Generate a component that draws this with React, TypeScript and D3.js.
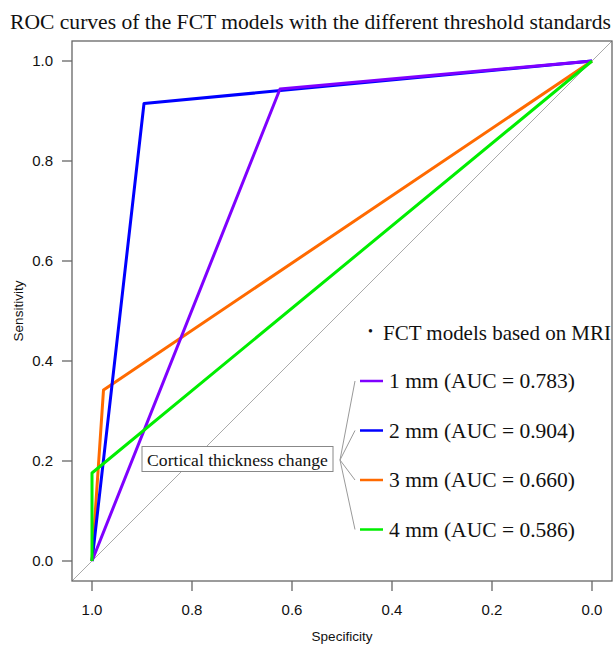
import React from 'react';
import * as d3 from 'd3';

// ROC points per model: specificity and sensitivity (start at 1,0 and end at 0,1)
const models = ['1 mm', '2 mm', '3 mm', '4 mm'];
const aucs = ['0.783', '0.904', '0.660', '0.586'];
const colors = ['#7f00ff', '#0000ff', '#ff6a00', '#00ee00'];
const specificity = [
    [1, 0.624, 0],
    [1, 0.896, 0],
    [1, 0.977, 0],
    [1, 1.0, 0],
];
const sensitivity = [
    [0, 0.944, 1],
    [0, 0.915, 1],
    [0, 0.342, 1],
    [0, 0.176, 1],
];
const drawOrder = [2, 1, 0, 3];
const ticks = [1.0, 0.8, 0.6, 0.4, 0.2, 0.0];

const W = 614;
const H = 645;
const left = 72, right = 612, top = 41, bottom = 581;

const serif = '"Liberation Serif", "Times New Roman", serif';
const sans = '"Liberation Sans", Arial, sans-serif';

const App = () => {
    const x = d3.scaleLinear().domain([1.04, -0.04]).range([left, right]);
    const y = d3.scaleLinear().domain([-0.04, 1.04]).range([bottom, top]);

    const line = d3.line<[number, number]>()
        .x(d => x(d[0]))
        .y(d => y(d[1]));

    const legendX = 360;
    const legendY = [381, 430.5, 480, 529.5];
    const hub = [340, 460];

    return (
        <svg width={W} height={H} style={{ position: 'absolute', left: 0, top: 0, background: 'white' }}>
            <text x={10} y={29} fontFamily={serif} fontSize={21} fill="#111"
                textLength={601} lengthAdjust="spacingAndGlyphs">
                ROC curves of the FCT models with the different threshold standards
            </text>

            {/* reference diagonal */}
            <line x1={x(1.04)} y1={y(-0.04)} x2={x(-0.04)} y2={y(1.04)} stroke="#aaa" strokeWidth={1} />

            {drawOrder.map(i => (
                <path key={models[i]}
                    d={line(specificity[i].map((s, j) => [s, sensitivity[i][j]] as [number, number])) || ''}
                    fill="none" stroke={colors[i]} strokeWidth={3} strokeLinejoin="round" />
            ))}

            {/* frame */}
            <rect x={left} y={top} width={right - left} height={bottom - top} fill="none" stroke="#666" strokeWidth={1.3} />

            {/* y axis */}
            {ticks.map(t => (
                <g key={'y' + t}>
                    <line x1={left - 10} x2={left} y1={y(t)} y2={y(t)} stroke="#666" strokeWidth={1.3} />
                    <text x={53} y={y(t)} dy="0.35em" textAnchor="end" fontFamily={sans} fontSize={15} fill="#111">
                        {t.toFixed(1)}
                    </text>
                </g>
            ))}
            {/* x axis */}
            {ticks.map(t => (
                <g key={'x' + t}>
                    <line x1={x(t)} x2={x(t)} y1={bottom} y2={bottom + 10} stroke="#666" strokeWidth={1.3} />
                    <text x={x(t)} y={615} textAnchor="middle" fontFamily={sans} fontSize={15} fill="#111">
                        {t.toFixed(1)}
                    </text>
                </g>
            ))}
            <text x={(left + right) / 2} y={641} textAnchor="middle" fontFamily={sans} fontSize={13.5} fill="#111">
                Specificity
            </text>
            <text transform={`translate(23,${(top + bottom) / 2}) rotate(-90)`} textAnchor="middle"
                fontFamily={sans} fontSize={13.5} fill="#111">
                Sensitivity
            </text>

            {/* legend */}
            <text x={368} y={336} fontFamily={serif} fontSize={14} fill="#111">•</text>
            <text x={383} y={340} fontFamily={serif} fontSize={21} fill="#111"
                textLength={228} lengthAdjust="spacingAndGlyphs">
                FCT models based on MRI
            </text>
            {models.map((m, i) => (
                <g key={'lg' + m}>
                    <line x1={legendX} x2={legendX + 23} y1={legendY[i]} y2={legendY[i]} stroke={colors[i]} strokeWidth={2.5} />
                    <text x={389} y={legendY[i] + 7} fontFamily={serif} fontSize={21.5} fill="#111">
                        {`${m} (AUC = ${aucs[i]})`}
                    </text>
                    <line x1={hub[0]} y1={hub[1]} x2={355} y2={legendY[i]} stroke="#999" strokeWidth={1} />
                </g>
            ))}

            {/* annotation box */}
            <rect x={142} y={446.5} width={191} height={25} fill="white" stroke="#888" strokeWidth={1} />
            <text x={237.5} y={465.5} textAnchor="middle" fontFamily={serif} fontSize={17.6} fill="#111">
                Cortical thickness change
            </text>
        </svg>
    );
};

export default App;
